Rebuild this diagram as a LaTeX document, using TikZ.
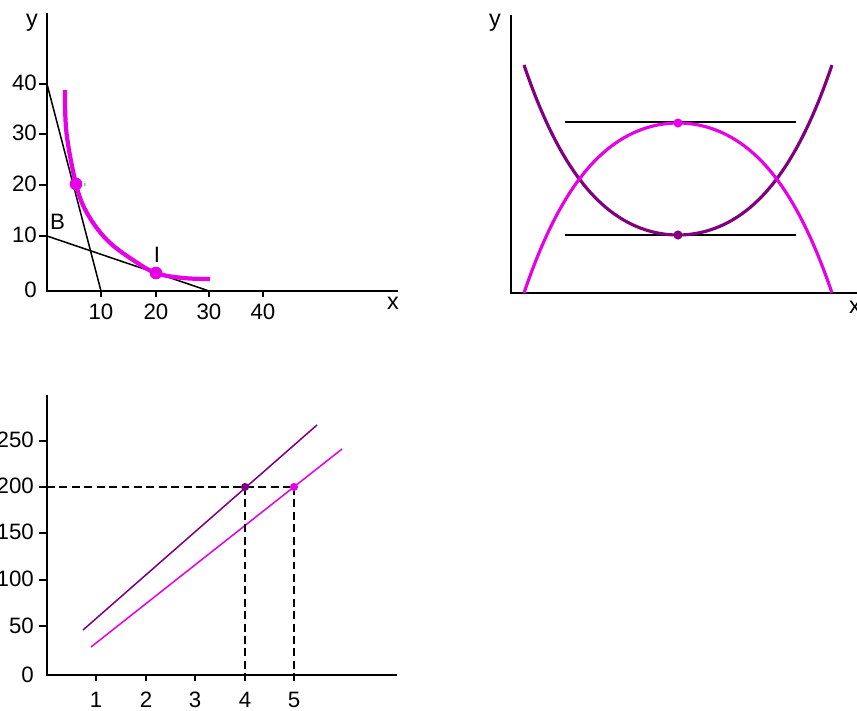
\documentclass[tikz,border=0pt]{standalone}
\usepackage{fontspec}
\setmainfont{Liberation Sans}
\definecolor{mag}{RGB}{230,0,230}
\definecolor{pur}{RGB}{128,0,128}
\begin{document}
\begin{tikzpicture}[x=0.03cm,y=-0.03cm,
  axis/.style={line width=1.6pt,black},
  tick/.style={line width=1.2pt,black},
  blk/.style={line width=1.3pt,black},
  ticklab/.style={font=\fontsize{19}{22}\selectfont,inner sep=0pt},
  axlab/.style={font=\fontsize{20}{24}\selectfont,inner sep=0pt},
  ptlab/.style={font=\fontsize{19}{22}\selectfont,inner sep=0pt},
  dsh/.style={line width=1.3pt,black,dash pattern=on 6.8pt off 3.8pt}]
\useasboundingbox (0,0) rectangle (857,711);
% ---------------- top left ----------------
\coordinate (tlO) at (47,291);
\coordinate (tlY) at (47,13);
\coordinate (tlX) at (398,291);
\draw[axis] (tlY) -- (tlO) -- (tlX);
\foreach \yy/\lab in {84/40,134/30,185/20,236/10}{
  \draw[tick] (39,\yy) -- (47,\yy);
  \node[ticklab,anchor=base east] (tly\lab) at (37,\yy+7) {\lab};
}
\node[ticklab,anchor=base east] (tly0) at (37,298) {0};
\foreach \xx/\lab in {101/10,156/20,209/30,263/40}{
  \draw[tick] (\xx,291) -- (\xx,297);
  \node[ticklab,anchor=base] (tlx\lab) at (\xx,320) {\lab};
}
\node[axlab,anchor=base] (tlylab) at (32,27) {y};
\node[axlab,anchor=base] (tlxlab) at (393,310) {x};
\coordinate (a40) at (47,84);
\coordinate (a10) at (101,291);
\coordinate (b10) at (47,236);
\coordinate (b30) at (209,291);
\draw[blk] (a40) -- (a10);
\draw[blk] (b10) -- (b30);
\draw[mag,line width=3.6pt] plot[smooth,tension=0.6] coordinates
  {(65,90) (66.5,133) (76,184) (87,213) (107,240) (133,260) (156,273) (183,278) (210,279)};
\fill[mag] (76,184) circle (5.4pt);
\fill[mag] (156,273) circle (5.4pt);
\node[font=\fontsize{5}{6}\selectfont,inner sep=0pt] (ismall) at (85,184) {i};
\node[ptlab,anchor=base] (Blab) at (57.5,230) {B};
\node[ptlab,anchor=base] (Ilab) at (157,263) {I};
% ---------------- top right ----------------
\coordinate (trO) at (511,293);
\coordinate (trY) at (511,15);
\coordinate (trX) at (860,293);
\draw[axis] (trY) -- (trO) -- (trX);
\node[axlab,anchor=base] (trylab) at (495,27) {y};
\node[axlab,anchor=base] (trxlab) at (855,314) {x};
\coordinate (h1l) at (565,122);
\coordinate (h1r) at (796,122);
\coordinate (h2l) at (565,235);
\coordinate (h2r) at (796,235);
\draw[blk] (h1l) -- (h1r);
\draw[blk] (h2l) -- (h2r);
\draw[pur,line width=2.7pt] plot[domain=-1:1,samples=80,smooth]
  ({678+154*\x},{235-170*(0.666*\x*\x+0.334*\x*\x*\x*\x)});
\draw[mag,line width=2.7pt] plot[domain=-1:1,samples=80,smooth]
  ({678+154*\x},{123+170*(0.666*\x*\x+0.334*\x*\x*\x*\x)});
\fill[mag] (678,123) circle (3.9pt);
\fill[pur] (678,235) circle (3.9pt);
% ---------------- bottom ----------------
\coordinate (bO) at (47,675);
\coordinate (bY) at (47,395);
\coordinate (bX) at (397,675);
\draw[axis] (bY) -- (bO) -- (bX);
\foreach \yy/\lab in {441/250,487/200,533/150,580/100,626/50}{
  \draw[tick] (39,\yy) -- (47,\yy);
  \node[ticklab,anchor=base east] (by\lab) at (34,\yy+7) {\lab};
}
\node[ticklab,anchor=base east] (by0) at (34,682) {0};
\foreach \xx/\lab in {96/1,146/2,195/3,245/4,294/5}{
  \draw[tick] (\xx,675) -- (\xx,681);
  \node[ticklab,anchor=base] (bx\lab) at (\xx,707) {\lab};
}
\coordinate (p1) at (83,630);
\coordinate (p2) at (317,425);
\coordinate (m1) at (91,647);
\coordinate (m2) at (342,449);
\draw[pur,line width=1.3pt] (p1) -- (p2);
\draw[mag,line width=1.3pt] (m1) -- (m2);
\coordinate (d4) at (245,487);
\coordinate (d5) at (294,487);
\coordinate (d4b) at (245,675);
\coordinate (d5b) at (294,675);
\coordinate (d0) at (47,487);
\draw[dsh] (d0) -- (d5);
\draw[dsh] (d4) -- (d4b);
\draw[dsh] (d5) -- (d5b);
\fill[pur] (d4) circle (3.5pt);
\fill[mag] (d5) circle (3.5pt);
\end{tikzpicture}
\end{document}
